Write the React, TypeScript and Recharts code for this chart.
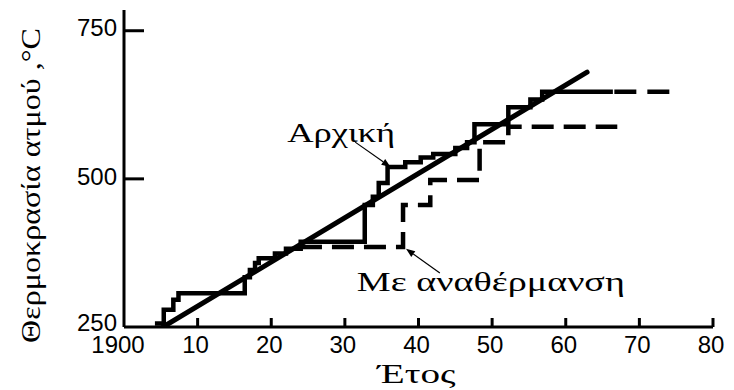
import React from 'react';
import { LineChart, Line, XAxis, YAxis, ReferenceLine } from 'recharts';

// ---- data ----
const originalYears = [
  1904.2, 1905.4, 1905.4, 1906.7, 1906.7, 1907.4, 1907.4, 1916.4, 1916.4, 1917.1,
  1917.1, 1917.8, 1917.8, 1918.3, 1918.3, 1920.5, 1920.5, 1922.0, 1922.0, 1924.0,
  1924.0, 1932.7, 1932.7, 1933.8, 1933.8, 1934.6, 1934.6, 1935.8, 1935.8, 1938.2,
  1938.2, 1940.3, 1940.3, 1942.0, 1942.0, 1945.0, 1945.0, 1946.6, 1946.6, 1947.6,
  1947.6, 1952.2, 1952.2, 1955.2, 1955.2, 1956.8, 1956.8, 1966.4,
];
const originalTemps = [
  256, 256, 279, 279, 296, 296, 307, 307, 334, 334,
  346, 346, 358, 358, 366, 366, 374, 374, 382, 382,
  394, 394, 456, 456, 470, 470, 493, 493, 520, 520,
  528, 528, 536, 536, 542, 542, 552, 552, 562, 562,
  592, 592, 621, 621, 634, 634, 647, 647,
];

const reheatYears = [1923.9, 1937.9, 1937.9, 1941.6, 1941.6, 1948.3, 1948.3, 1952.2, 1952.2, 1967.0];
const reheatTemps = [385, 385, 456, 456, 498, 498, 562, 562, 588, 588];

const extensionYears = [1966.6, 1975.2];
const extensionTemps = [647, 647];

const trendYears = [1905.3, 1962.9];
const trendTemps = [250, 680];

const xTicks = [1900, 1910, 1920, 1930, 1940, 1950, 1960, 1970, 1980];
const yTicks = [250, 500, 750];

const xTitle = 'Έτος';
const yTitle = 'Θερμοκρασία ατμού ,°C';
const labelOriginal = 'Αρχική';
const labelReheat = 'Με αναθέρμανση';

// annotation arrows: [tail, head] in data units
const originalArrowYears = [1931.4, 1936.2];
const originalArrowTemps = [562, 520];
const reheatArrowYears = [1942.9, 1938.3];
const reheatArrowTemps = [341, 382];

// ---- helpers ----
const toPoints = (xs: number[], ys: number[]) => xs.map((year, i) => ({ year, temp: ys[i] }));
const toSegment = (xs: number[], ys: number[]) => xs.map((x, i) => ({ x, y: ys[i] }));

const SANS = "'Liberation Sans', Arial, sans-serif";
const SERIF = "'Liberation Serif', 'DejaVu Serif', serif";

const formatYear = (v: number) => (v === 1900 ? '1900' : String(v - 1900));

const YTick = (props: any) => {
  const { x, y, payload } = props;
  const lift = payload.value === yTicks[0] ? -5 : -3;
  return (
    <g>
      {payload.value !== yTicks[0] && (
        <line x1={x} y1={y} x2={x + 20} y2={y} stroke="#000" strokeWidth={3} />
      )}
      <text x={x - 7} y={y + lift} dy="0.36em" textAnchor="end" fontFamily={SANS} fontSize={24} fill="#000">
        {payload.value}
      </text>
    </g>
  );
};

const XTick = (props: any) => {
  const { x, y, payload } = props;
  const shift = payload.value === xTicks[0] ? -6 : -2;
  return (
    <g>
      {payload.value !== xTicks[0] && (
        <line x1={x} y1={y} x2={x} y2={y - 9} stroke="#000" strokeWidth={3} />
      )}
      <text x={x + shift} y={y + 26} textAnchor="middle" fontFamily={SANS} fontSize={24} fill="#000">
        {formatYear(payload.value)}
      </text>
    </g>
  );
};

const makeArrow = (text: string, textLen: number, dx: number, dy: number) => (props: any) => {
  const { x1, y1, x2, y2 } = props;
  const ang = Math.atan2(y2 - y1, x2 - x1);
  const L = 9;
  const W = 3.5;
  const bx = x2 - L * Math.cos(ang);
  const by = y2 - L * Math.sin(ang);
  const px = -Math.sin(ang) * W;
  const py = Math.cos(ang) * W;
  return (
    <g>
      <line x1={x1} y1={y1} x2={bx} y2={by} stroke="#000" strokeWidth={1.2} />
      <polygon points={`${x2},${y2} ${bx + px},${by + py} ${bx - px},${by - py}`} fill="#000" />
      <text
        x={x1 + dx}
        y={y1 + dy}
        textAnchor="middle"
        fontFamily={SERIF}
        fontSize={28}
        textLength={textLen}
        lengthAdjust="spacingAndGlyphs"
        fill="#000"
      >
        {text}
      </text>
    </g>
  );
};

const XTitle = (props: any) => {
  const vb = props.viewBox || { x: 124, y: 327, width: 589, height: 63 };
  return (
    <text
      x={vb.x + vb.width / 2 - 2}
      y={vb.y + 56}
      textAnchor="middle"
      fontFamily={SERIF}
      fontSize={28}
      textLength={78}
      lengthAdjust="spacingAndGlyphs"
      fill="#000"
    >
      {xTitle}
    </text>
  );
};

const YTitle = (props: any) => {
  const vb = props.viewBox || { x: 0, y: 10, width: 124, height: 317 };
  const cx = 30;
  const cy = vb.y + vb.height / 2 + 17;
  return (
    <text
      x={cx}
      y={cy}
      transform={`rotate(-90 ${cx} ${cy})`}
      textAnchor="middle"
      dominantBaseline="central"
      fontFamily={SERIF}
      fontSize={28}
      textLength={315}
      lengthAdjust="spacingAndGlyphs"
      fill="#000"
    >
      {yTitle}
    </text>
  );
};

export default function App() {
  return (
    <div style={{ position: 'absolute', left: 0, top: 0, background: '#fff' }}>
      <LineChart width={734} height={390} margin={{ top: 10, right: 21, bottom: 0, left: 0 }}>
        <XAxis
          type="number"
          dataKey="year"
          domain={[1900, 1980]}
          allowDataOverflow
          ticks={xTicks}
          interval={0}
          tickSize={0}
          tickMargin={0}
          tickLine={false}
          tick={<XTick />}
          height={63}
          axisLine={{ stroke: '#000', strokeWidth: 3 }}
          label={(p: any) => <XTitle {...p} />}
        />
        <YAxis
          type="number"
          dataKey="temp"
          domain={[250, 785]}
          allowDataOverflow
          ticks={yTicks}
          interval={0}
          tickSize={0}
          tickMargin={0}
          tickLine={false}
          tick={<YTick />}
          width={124}
          axisLine={{ stroke: '#000', strokeWidth: 3 }}
          label={(p: any) => <YTitle {...p} />}
        />
        <Line
          data={toPoints(trendYears, trendTemps)}
          dataKey="temp"
          type="linear"
          stroke="#000"
          strokeWidth={5}
          dot={false}
          activeDot={false}
          isAnimationActive={false}
          strokeLinecap="round"
        />
        <Line
          data={toPoints(reheatYears, reheatTemps)}
          dataKey="temp"
          type="linear"
          stroke="#000"
          strokeWidth={4.5}
          strokeDasharray="22 10"
          dot={false}
          activeDot={false}
          isAnimationActive={false}
        />
        <Line
          data={toPoints(extensionYears, extensionTemps)}
          dataKey="temp"
          type="linear"
          stroke="#000"
          strokeWidth={4.5}
          strokeDasharray="22 11"
          dot={false}
          activeDot={false}
          isAnimationActive={false}
        />
        <Line
          data={toPoints(originalYears, originalTemps)}
          dataKey="temp"
          type="linear"
          stroke="#000"
          strokeWidth={4.5}
          dot={false}
          activeDot={false}
          isAnimationActive={false}
        />
        <ReferenceLine
          segment={toSegment(originalArrowYears, originalArrowTemps)}
          shape={makeArrow(labelOriginal, 108, -14, 0)}
        />
        <ReferenceLine
          segment={toSegment(reheatArrowYears, reheatArrowTemps)}
          shape={makeArrow(labelReheat, 268, 51, 18)}
        />
      </LineChart>
    </div>
  );
}
